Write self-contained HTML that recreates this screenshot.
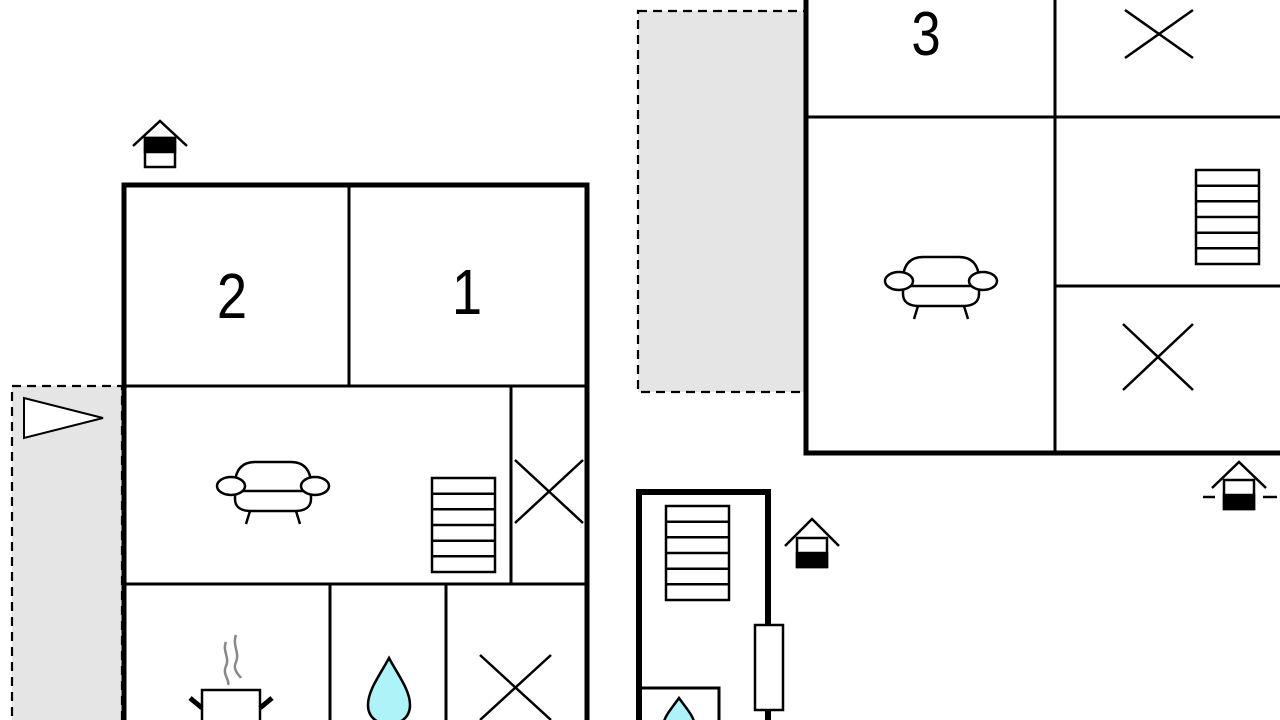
<!DOCTYPE html>
<html><head><meta charset="utf-8"><style>
html,body{margin:0;padding:0;background:#fff;width:1280px;height:720px;overflow:hidden}
svg{display:block}
text{font-family:"Liberation Sans",sans-serif;fill:#000}
</style></head><body>
<svg width="1280" height="720" viewBox="0 0 1280 720" xmlns="http://www.w3.org/2000/svg">
<defs>
<g id="sofa" fill="#fff" stroke="#000" stroke-width="2.5">
  <path d="M-38,-2 C-38,-18 -30,-25 -18,-25 L18,-25 C30,-25 38,-18 38,-2 L38,12 C38,20 32,24 22,24 L-22,24 C-32,24 -38,20 -38,12 Z"/>
  <line x1="-36" y1="4" x2="36" y2="4"/>
  <ellipse cx="-42" cy="-1" rx="14" ry="9"/>
  <ellipse cx="42" cy="-1" rx="14" ry="9"/>
  <line x1="-23" y1="24" x2="-27" y2="37"/>
  <line x1="23" y1="24" x2="27" y2="37"/>
</g>
<g id="stairs" fill="#fff" stroke="#000" stroke-width="2.5">
  <rect x="0" y="0" width="63" height="94"/>
  <line x1="0" y1="15.7" x2="63" y2="15.7"/><line x1="0" y1="31.3" x2="63" y2="31.3"/>
  <line x1="0" y1="47" x2="63" y2="47"/><line x1="0" y1="62.7" x2="63" y2="62.7"/>
  <line x1="0" y1="78.3" x2="63" y2="78.3"/>
</g>
</defs>

<rect x="12" y="386" width="110" height="340" fill="#e5e5e5" stroke="#000" stroke-width="2.2" stroke-dasharray="9,6"/>
<rect x="638" y="11" width="168" height="381" fill="#e5e5e5" stroke="#000" stroke-width="2.2" stroke-dasharray="9,6"/>
<polygon points="24,398 24,438 103,418" fill="#fff" stroke="#000" stroke-width="2"/>

<g stroke="#000" fill="none">
  <rect x="124" y="185" width="463" height="560" fill="#fff" stroke-width="5"/>
  <g stroke-width="3">
    <line x1="349" y1="185" x2="349" y2="386"/>
    <line x1="124" y1="386" x2="587" y2="386"/>
    <line x1="511" y1="386" x2="511" y2="584"/>
    <line x1="124" y1="584" x2="587" y2="584"/>
    <line x1="330" y1="584" x2="330" y2="720"/>
    <line x1="446" y1="584" x2="446" y2="720"/>
  </g>
  <g stroke-width="2.5">
    <line x1="515" y1="460" x2="583" y2="523"/><line x1="583" y1="460" x2="515" y2="523"/>
    <line x1="480" y1="655" x2="551" y2="720"/><line x1="551" y1="655" x2="480" y2="720"/>
  </g>
</g>
<text transform="translate(232,318) scale(0.85,1)" font-size="64" text-anchor="middle">2</text>
<text transform="translate(467,314) scale(0.85,1)" font-size="64" text-anchor="middle">1</text>
<use href="#sofa" x="273" y="487"/>
<use href="#stairs" x="432" y="478"/>
<g stroke="#888" stroke-width="2.5" fill="none">
  <path d="M226,642 C222,650 230,658 226,666 C222,674 230,680 228,685"/>
  <path d="M236,635 C232,645 240,653 236,662 C232,670 240,676 241,678"/>
</g>
<rect x="202" y="690" width="58" height="40" fill="#fff" stroke="#000" stroke-width="2.5"/>
<line x1="190" y1="698" x2="202" y2="708" stroke="#000" stroke-width="5"/>
<line x1="272" y1="698" x2="260" y2="708" stroke="#000" stroke-width="5"/>
<path d="M389,658 C380,675 368,690 368,705 C368,718 378,724 389,724 C400,724 410,718 410,705 C410,690 398,675 389,658 Z" fill="#aef3f8" stroke="#000" stroke-width="2.5"/>

<g stroke="#000" fill="none">
  <rect x="806" y="-10" width="490" height="463" fill="#fff" stroke-width="5"/>
  <g stroke-width="3">
    <line x1="1055" y1="-10" x2="1055" y2="453"/>
    <line x1="806" y1="117" x2="1280" y2="117"/>
    <line x1="1055" y1="286" x2="1280" y2="286"/>
  </g>
  <g stroke-width="2.5">
    <line x1="1125" y1="10" x2="1193" y2="58"/><line x1="1193" y1="10" x2="1125" y2="58"/>
    <line x1="1123" y1="324" x2="1193" y2="390"/><line x1="1193" y1="324" x2="1123" y2="390"/>
  </g>
</g>
<text transform="translate(926,55) scale(0.85,1)" font-size="62" text-anchor="middle">3</text>
<use href="#stairs" x="1196" y="170"/>
<use href="#sofa" x="941" y="282"/>

<g stroke="#000" fill="none">
  <rect x="639" y="492" width="129" height="260" fill="#fff" stroke-width="6"/>
  <rect x="640" y="688" width="79" height="60" stroke-width="3"/>
  <rect x="755" y="625" width="28" height="85" fill="#fff" stroke-width="2.5"/>
</g>
<use href="#stairs" x="666" y="506"/>
<path d="M679,698 C672,708 664,716 663,726 L695,726 C694,716 686,708 679,698 Z" fill="#aef3f8" stroke="#000" stroke-width="2.5"/>

<g stroke="#000" stroke-width="2.5" fill="none">
  <polyline points="133,146 160,121 187,146"/>
  <rect x="145" y="138" width="30" height="29" fill="#fff"/>
  <rect x="145" y="138" width="30" height="14" fill="#000"/>

  <polyline points="785,546 812,519 839,546"/>
  <rect x="797" y="538" width="30" height="29" fill="#fff"/>
  <rect x="797" y="553" width="30" height="14" fill="#000"/>

  <polyline points="1212,488 1239,462 1266,488"/>
  <rect x="1224" y="480" width="30" height="29" fill="#fff"/>
  <rect x="1224" y="495" width="30" height="14" fill="#000"/>
  <line x1="1203" y1="497" x2="1215" y2="497"/>
  <line x1="1263" y1="497" x2="1277" y2="497"/>
</g>
</svg>
</body></html>
